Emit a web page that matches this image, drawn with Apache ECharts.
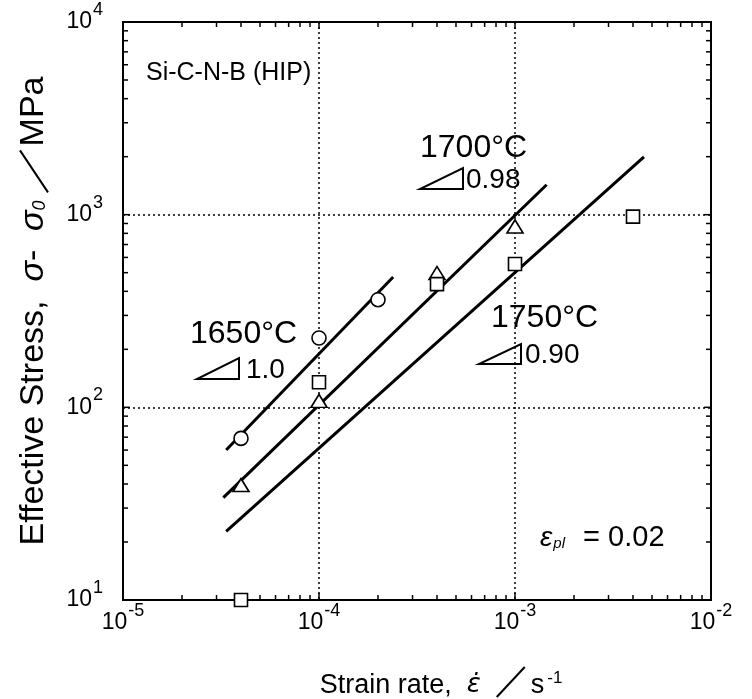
<!DOCTYPE html>
<html>
<head>
<meta charset="utf-8">
<script src="https://cdn.jsdelivr.net/npm/echarts@6/dist/echarts.min.js"></script>
<style>
  html, body { margin: 0; padding: 0; background: #fff; }
  #chart { width: 752px; height: 699px; }
</style>
</head>
<body>
<div id="chart"></div>
<script>
// Axis ranges (log10 scales)
const xMin = 1e-5, xMax = 1e-2;
const yMin = 10, yMax = 1e4;

// Decades used for the minor tick marks (2..9 within each decade)
const xDecades = [1e-5, 1e-4, 1e-3];
const yDecades = [10, 100, 1000];
const minorSteps = [2, 3, 4, 5, 6, 7, 8, 9];
const xMajors = [1e-5, 1e-4, 1e-3, 1e-2];
const yMajors = [10, 100, 1000, 10000];

// Measured points: strain rate (1/s) and effective stress (MPa)
const rate1650 = [4e-5, 1e-4, 2e-4];
const stress1650 = [69, 229, 362];
const rate1700 = [4e-5, 1e-4, 4e-4, 1e-3];
const stress1700 = [39.5, 108, 498, 869];
const rate1750 = [4e-5, 1e-4, 4e-4, 1e-3, 4e-3];
const stress1750 = [10, 135, 436, 555, 977];

// Fitted power-law lines (end points)
const fitRate1650 = [3.36e-5, 2.39e-4];
const fitStress1650 = [60, 475];
const fitRate1700 = [3.25e-5, 1.45e-3];
const fitStress1700 = [34, 1430];
const fitRate1750 = [3.36e-5, 4.55e-3];
const fitStress1750 = [22.7, 1995];

const FONT = '"Liberation Sans", Arial, Helvetica, sans-serif';
const DJV = '"DejaVu Sans", sans-serif';

// Layout of the plotting area
const W = 752, H = 699;
const G = { left: 123, right: 41, top: 22, bottom: 99 };

function pairs(xs, ys) { return xs.map((x, i) => [x, ys[i]]); }

const xMinorVals = [];
xDecades.forEach(d => minorSteps.forEach(m => xMinorVals.push(d * m)));
const yMinorVals = [];
yDecades.forEach(d => minorSteps.forEach(m => yMinorVals.push(d * m)));

function powLabel(v) {
  const e = Math.round(Math.log10(v));
  return '{b|10}{s|' + e + '}';
}
const powRich = {
  b: { fontSize: 23, fontFamily: FONT, color: '#000' },
  s: { fontSize: 18, fontFamily: FONT, color: '#000', padding: [0, 0, 24, 1] }
};

// text measuring for placing the slashes inside the axis titles
const mctx = document.createElement('canvas').getContext('2d');
function tw(text, size, family, italic) {
  mctx.font = (italic ? 'italic ' : '') + size + 'px ' + family;
  return mctx.measureText(text).width;
}

// x title pieces
const XT = { size: 27, padLeft: 48, eps: 'ε̇', epsPad: 10, slash: 40, gap: 70 };
const xTitleW = tw('Strain rate,  ', XT.size, FONT) + tw(XT.eps, 26, DJV, true) + XT.epsPad +
  XT.slash + tw('s', XT.size, FONT) + tw('-1', 17, FONT) + 3;
const xCenter = G.left + (W - G.left - G.right) / 2;
const xStart = xCenter + XT.padLeft / 2 - xTitleW / 2;
const xSlash0 = xStart + tw('Strain rate,  ', XT.size, FONT) + tw(XT.eps, 26, DJV, true) + XT.epsPad;
const xAxisY = H - G.bottom;

// y title pieces
const YT = { size: 34, slash: 50 };
const yPre = tw('Effective Stress,  ', YT.size, FONT) + tw('σ', YT.size, FONT, true) +
  tw('-  ', YT.size, FONT) + tw('σ', YT.size, FONT, true) + tw('0', 18, FONT, true) + 4;
const yTitleL = yPre + YT.slash + tw('MPa', YT.size, FONT);
const yCenter = G.top + (H - G.top - G.bottom) / 2;
const ySlash0 = yCenter + yTitleL / 2 - yPre;

// Tick marks on all four sides, drawn inward
function xTicks(len) {
  return function (params, api) {
    const cs = params.coordSys;
    const x = api.coord([api.value(0), yMin])[0];
    const b = cs.y + cs.height, t = cs.y;
    const st = { stroke: '#000', lineWidth: 1.5 };
    return { type: 'group', children: [
      { type: 'line', shape: { x1: x, y1: b, x2: x, y2: b - len }, style: st },
      { type: 'line', shape: { x1: x, y1: t, x2: x, y2: t + len }, style: st }
    ]};
  };
}
function yTicks(len) {
  return function (params, api) {
    const cs = params.coordSys;
    const y = api.coord([xMin, api.value(1)])[1];
    const l = cs.x, r = cs.x + cs.width;
    const st = { stroke: '#000', lineWidth: 1.5 };
    return { type: 'group', children: [
      { type: 'line', shape: { x1: l, y1: y, x2: l + len, y2: y }, style: st },
      { type: 'line', shape: { x1: r, y1: y, x2: r - len, y2: y }, style: st }
    ]};
  };
}

const fitLine = (xs, ys) => ({
  type: 'line', data: pairs(xs, ys), symbol: 'none', silent: true, z: 3,
  lineStyle: { color: '#000', width: 3 }
});
const marks = (xs, ys, symbol, size) => ({
  type: 'scatter', data: pairs(xs, ys), symbol: symbol, symbolSize: size,
  silent: true, z: 5, clip: false,
  itemStyle: { color: '#fff', borderColor: '#000', borderWidth: 1.6, opacity: 1 }
});
const tickSeries = (vals, isX, len) => ({
  type: 'custom', silent: true, clip: false, z: 4,
  data: vals.map(v => isX ? [v, yMin] : [xMin, v]),
  encode: { x: 0, y: 1 },
  renderItem: isX ? xTicks(len) : yTicks(len)
});

function slopeMark(x, y, w, h) {
  return { type: 'polygon', shape: { points: [[x, y], [x + w, y], [x + w, y - h]] },
    style: { fill: 'none', stroke: '#000', lineWidth: 2 }, z: 10 };
}
function label(text, x, y, size) {
  return { type: 'text', x: x, y: y, z: 10,
    style: { text: text, font: size + 'px ' + FONT, fill: '#000', textVerticalAlign: 'middle' } };
}
function stroke(x1, y1, x2, y2) {
  return { type: 'line', shape: { x1: x1, y1: y1, x2: x2, y2: y2 }, z: 10,
    style: { stroke: '#000', lineWidth: 2 } };
}

const chart = echarts.init(document.getElementById('chart'), null, { renderer: 'canvas' });
chart.setOption({
  animation: false,
  backgroundColor: '#fff',
  grid: { left: G.left, right: G.right, top: G.top, bottom: G.bottom, show: true,
          outerBoundsMode: 'none', containLabel: false,
          borderColor: '#000', borderWidth: 2, backgroundColor: 'transparent' },
  xAxis: {
    type: 'log', logBase: 10, min: xMin, max: xMax,
    axisLine: { show: true, lineStyle: { color: '#000', width: 2 } },
    axisTick: { show: false },
    splitLine: { show: true, lineStyle: { color: '#000', width: 1.5, type: [2, 3] } },
    axisLabel: { formatter: powLabel, rich: powRich, margin: 2, color: '#000',
                 fontSize: 23, fontFamily: FONT },
    name: '{t|Strain rate,  }{e|' + XT.eps + '}{sl| }{t|s}{s|-1}',
    nameLocation: 'middle', nameGap: XT.gap,
    nameTextStyle: {
      color: '#000', fontSize: XT.size, fontFamily: FONT,
      padding: [0, 0, 0, XT.padLeft],
      rich: {
        t: { fontSize: XT.size, fontFamily: FONT, color: '#000' },
        e: { fontSize: 26, fontFamily: DJV, fontStyle: 'italic', color: '#000', padding: [0, XT.epsPad, 0, 0] },
        sl: { fontSize: XT.size, fontFamily: FONT, color: '#000', width: XT.slash },
        s: { fontSize: 17, fontFamily: FONT, color: '#000', padding: [0, 0, 14, 3] }
      }
    }
  },
  yAxis: {
    type: 'log', logBase: 10, min: yMin, max: yMax,
    axisLine: { show: true, lineStyle: { color: '#000', width: 2 } },
    axisTick: { show: false },
    splitLine: { show: true, lineStyle: { color: '#000', width: 1.5, type: [2, 3] } },
    axisLabel: { formatter: powLabel, rich: powRich, margin: 20, color: '#000',
                 fontSize: 23, fontFamily: FONT },
    name: '{t|Effective Stress,  }{g|σ}{t|-  }{g|σ}{o|0}{sl| }{t|MPa}',
    nameLocation: 'middle', nameGap: 72, nameRotate: 90,
    nameTextStyle: {
      color: '#000', fontSize: YT.size, fontFamily: FONT,
      rich: {
        t: { fontSize: YT.size, fontFamily: FONT, color: '#000' },
        g: { fontSize: YT.size, fontFamily: FONT, fontStyle: 'italic', color: '#000' },
        o: { fontSize: 18, fontFamily: FONT, fontStyle: 'italic', color: '#000', padding: [12, 4, 0, 0] },
        sl: { fontSize: YT.size, fontFamily: FONT, color: '#000', width: YT.slash }
      }
    }
  },
  series: [
    fitLine(fitRate1650, fitStress1650),
    fitLine(fitRate1700, fitStress1700),
    fitLine(fitRate1750, fitStress1750),
    marks(rate1650, stress1650, 'circle', 14),
    marks(rate1700, stress1700, 'triangle', [16, 13]),
    marks(rate1750, stress1750, 'rect', 13),
    tickSeries(xMajors, true, 7),
    tickSeries(yMajors, false, 7),
    tickSeries(xMinorVals, true, 5),
    tickSeries(yMinorVals, false, 5)
  ],
  graphic: [
    label('Si-C-N-B (HIP)', 146, 73, 25),
    label('1700°C', 420, 148, 32),
    slopeMark(420, 189, 43, 21),
    label('0.98', 466, 180, 28),
    label('1650°C', 190, 334, 32),
    slopeMark(197, 379, 42, 21),
    label('1.0', 246, 370, 28),
    label('1750°C', 491, 318, 32),
    slopeMark(479, 364, 42, 20),
    label('0.90', 525, 355, 28),
    // slashes inside the axis titles
    stroke(xSlash0 + 6, xAxisY + XT.gap + 27, xSlash0 + 34, xAxisY + XT.gap - 3),
    stroke(48, ySlash0 - 4, 20, ySlash0 - YT.slash + 4),
    { type: 'text', x: 540, y: 538, z: 10,
      style: {
        text: '{e|ε}{p|pl}{t|  = 0.02}', textVerticalAlign: 'middle', fill: '#000',
        rich: {
          e: { fontSize: 28, fontFamily: FONT, fontStyle: 'italic', fill: '#000' },
          p: { fontSize: 15, fontFamily: FONT, fontStyle: 'italic', fill: '#000', padding: [12, 2, 0, 1] },
          t: { fontSize: 29, fontFamily: FONT, fill: '#000' }
        }
      } }
  ]
});
</script>
</body>
</html>
